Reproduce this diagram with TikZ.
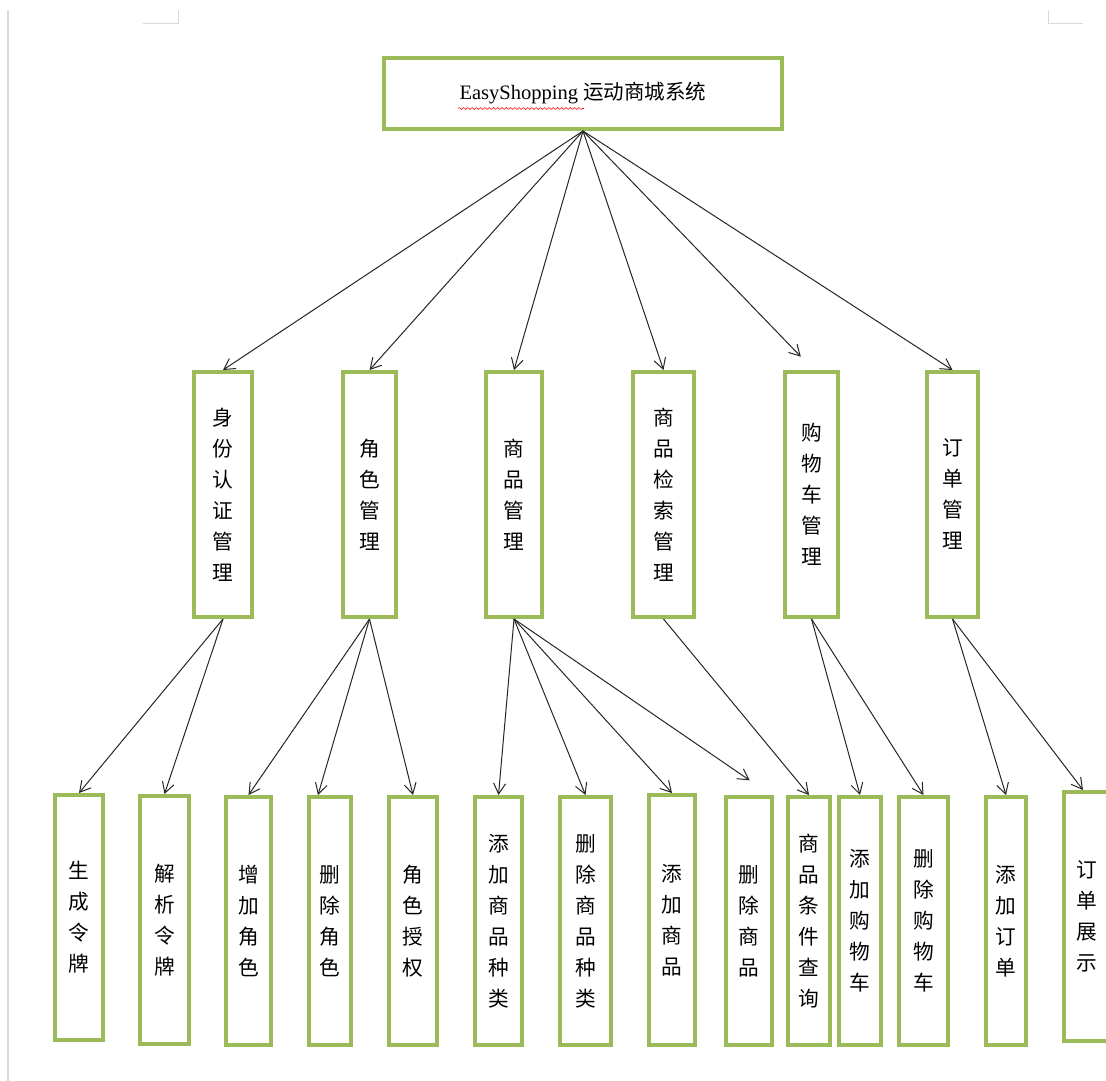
\documentclass[tikz,border=0pt]{standalone}
\usepackage{fontspec}
\setmainfont{Liberation Serif}
\newfontfamily\cjk{Noto Sans CJK SC}
\usetikzlibrary{arrows.meta,calc,decorations.pathmorphing}
\definecolor{boxgreen}{HTML}{9BBB59}
\definecolor{markgray}{HTML}{D9D9D9}
\begin{document}
\begin{tikzpicture}[x=0.75pt,y=-0.75pt,
  box/.style={draw=boxgreen,line width=3pt,fill=white,inner sep=0pt,align=center,
    font={\cjk\fontsize{15.5}{23.25}\selectfont}},
  sz/.style 2 args={minimum width={#1*0.75pt},minimum height={#2*0.75pt}},
  conn/.style={draw=black!85,line width=0.75pt,
    -{Straight Barb[length=8pt,width=9pt,line width=0.75pt]}},
  pagemark/.style={draw=markgray,line width=1.1pt}]
\useasboundingbox (0,0) rectangle (1106,1081);
\fill[white] (0,0) rectangle (1106,1081);
\clip (0,0) rectangle (1106,1081);

% page marks
\draw[pagemark] (8,10) -- (8,1081);
\draw[pagemark] (143,23.5) -- (178.5,23.5) -- (178.5,10);
\draw[pagemark] (1048.5,10) -- (1048.5,23.5) -- (1083,23.5);

% top
\node[box,sz={398}{71},font={\fontsize{15.4}{18}\selectfont}] (top) at (583,93.5)
  {EasyShopping {\cjk 运动商城系统}};
\draw[red,line width=0.4pt,decorate,decoration={snake,amplitude=0.7pt,segment length=3.2pt}]
  (458,108.5) -- (584,108.5);

% middle
\node[box,sz={58}{245}] (m1) at (223,494.5) {身\\份\\认\\证\\管\\理};
\node[box,sz={53}{245}] (m2) at (369.5,494.5) {角\\色\\管\\理};
\node[box,sz={56}{245}] (m3) at (514,494.5) {商\\品\\管\\理};
\node[box,sz={61}{245}] (m4) at (663.5,494.5) {商\\品\\检\\索\\管\\理};
\node[box,sz={53}{245}] (m5) at (811.5,494.5) {购\\物\\车\\管\\理};
\node[box,sz={51}{245}] (m6) at (952.5,494.5) {订\\单\\管\\理};

% bottom
\node[box,sz={48}{245}] (b1) at (79,917.5) {生\\成\\令\\牌};
\node[box,sz={49}{248}] (b2) at (164.5,920) {解\\析\\令\\牌};
\node[box,sz={45}{248}] (b3) at (248.5,921) {增\\加\\角\\色};
\node[box,sz={42}{248}] (b4) at (330,921) {删\\除\\角\\色};
\node[box,sz={48}{248}] (b5) at (413,921) {角\\色\\授\\权};
\node[box,sz={47}{248}] (b6) at (498.5,921) {添\\加\\商\\品\\种\\类};
\node[box,sz={51}{248}] (b7) at (585.5,921) {删\\除\\商\\品\\种\\类};
\node[box,sz={46}{250}] (b8) at (672,920) {添\\加\\商\\品};
\node[box,sz={46}{248}] (b9) at (749,921) {删\\除\\商\\品};
\node[box,sz={42}{248}] (b10) at (809,921) {商\\品\\条\\件\\查\\询};
\node[box,sz={42}{248}] (b11) at (860,921) {添\\加\\购\\物\\车};
\node[box,sz={49}{248}] (b12) at (923.5,921) {删\\除\\购\\物\\车};
\node[box,sz={40}{248}] (b13) at (1006,921) {添\\加\\订\\单};
\node[box,sz={46}{249}] (b14) at (1087,916.5) {订\\单\\展\\示};

% connectors top -> middle
\draw[conn] (top.south) -- (m1.north);
\draw[conn] (top.south) -- (m2.north);
\draw[conn] (top.south) -- (m3.north);
\draw[conn] (top.south) -- (m4.north);
\draw[conn] (top.south) -- ([xshift=-8pt,yshift=10pt]m5.north);
\draw[conn] (top.south) -- (m6.north);

% connectors middle -> bottom
\draw[conn] (m1.south) -- (b1.north);
\draw[conn] (m1.south) -- (b2.north);
\draw[conn] (m2.south) -- (b3.north);
\draw[conn] (m2.south) -- ([xshift=-9pt]b4.north);
\draw[conn] (m2.south) -- (b5.north);
\draw[conn] (m3.south) -- (b6.north);
\draw[conn] (m3.south) -- (b7.north);
\draw[conn] (m3.south) -- (b8.north);
\draw[conn] (m3.south) -- ([xshift=0.5pt,yshift=11pt]b9.north);
\draw[conn] (m4.south) -- (b10.north);
\draw[conn] (m5.south) -- (b11.north);
\draw[conn] (m5.south) -- (b12.north);
\draw[conn] (m6.south) -- (b13.north);
\draw[conn] (m6.south) -- ([xshift=-3pt]b14.north);
\end{tikzpicture}
\end{document}
